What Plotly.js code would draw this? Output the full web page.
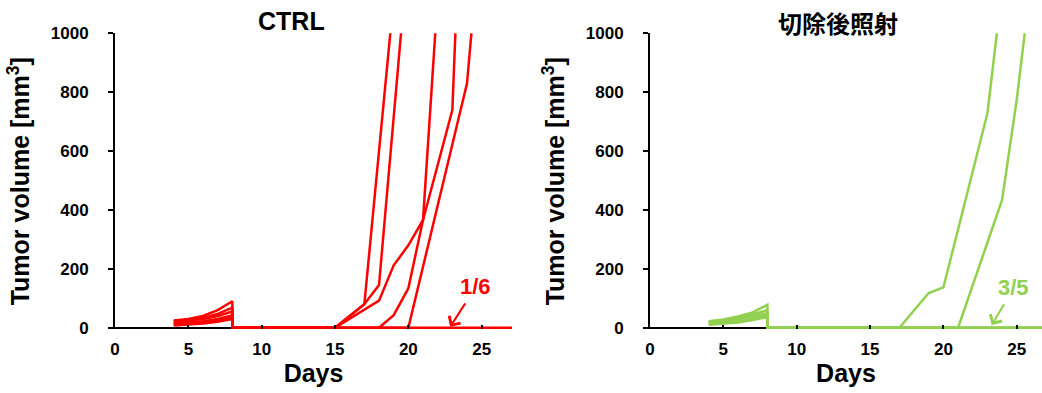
<!DOCTYPE html>
<html><head><meta charset="utf-8">
<script src="https://cdn.plot.ly/plotly-3.0.1.min.js"></script>
<style>html,body{margin:0;padding:0;background:#fff}#chart{width:1042px;height:393px}</style>
</head><body><div id="chart"></div>
<script>
// shared measurement days before resection (day 8)
const earlyDays = [4, 5, 6, 7, 8];

// CTRL group (6 mice)
const ctrlM1Early = [25, 30, 40, 60, 90];
const ctrlM1LateDays = [8, 15, 17, 19];
const ctrlM1Late = [0, 0, 80, 1120];

const ctrlM2Early = [22, 26, 33, 47, 68];
const ctrlM2LateDays = [8, 15, 17, 18, 20];
const ctrlM2Late = [0, 0, 80, 145, 1285];

const ctrlM3Early = [20, 24, 30, 40, 55];
const ctrlM3LateDays = [8, 15, 18, 19, 20, 21, 23, 24];
const ctrlM3Late = [0, 0, 92, 212, 280, 366, 739, 2000];

const ctrlM4Early = [14, 17, 22, 30, 42];
const ctrlM4LateDays = [8, 18, 19, 20, 21, 22];
const ctrlM4Late = [0, 0, 43, 134, 366, 1125];

const ctrlM5Early = [12, 14, 18, 25, 35];
const ctrlM5LateDays = [8, 20, 24, 25];
const ctrlM5Late = [0, 0, 830, 1400];

const ctrlM6Early = [8, 10, 14, 20, 30];
const ctrlM6LateDays = [8, 28];
const ctrlM6Late = [0, 0];

// Resection + irradiation group (5 mice)
const irrM1Early = [22, 28, 38, 52, 78];
const irrM1LateDays = [8, 17, 19, 20, 23, 24];
const irrM1Late = [0, 0, 118, 137, 728, 1150];

const irrM2Early = [20, 25, 33, 45, 60];
const irrM2LateDays = [8, 21, 24, 25, 26];
const irrM2Late = [0, 0, 434, 775, 1190];

const irrM3Early = [18, 22, 28, 38, 50];
const irrM3LateDays = [8, 28];
const irrM3Late = [0, 0];

const irrM4Early = [15, 18, 23, 31, 42];
const irrM4LateDays = [8, 28];
const irrM4Late = [0, 0];

const irrM5Early = [10, 13, 18, 26, 36];
const irrM5LateDays = [8, 28];
const irrM5Late = [0, 0];

const yTicks = [0, 200, 400, 600, 800, 1000];
const xTicks = [0, 5, 10, 15, 20, 25];
const titles = ['CTRL', '切除後照射'];
const fractions = ['1/6', '3/5'];

const RED = '#FF0000', GREEN = '#92D050';
const FONT = 'Liberation Sans, Arial, sans-serif';

function mouse(early, lateDays, late, color, xa, ya) {
  return {
    x: earlyDays.concat(lateDays),
    y: early.concat(late),
    type: 'scatter', mode: 'lines',
    line: {color: color, width: 2.5},
    xaxis: xa, yaxis: ya, showlegend: false, hoverinfo: 'skip'
  };
}

const traces = [
  mouse(ctrlM6Early, ctrlM6LateDays, ctrlM6Late, RED, 'x', 'y'),
  mouse(ctrlM1Early, ctrlM1LateDays, ctrlM1Late, RED, 'x', 'y'),
  mouse(ctrlM2Early, ctrlM2LateDays, ctrlM2Late, RED, 'x', 'y'),
  mouse(ctrlM3Early, ctrlM3LateDays, ctrlM3Late, RED, 'x', 'y'),
  mouse(ctrlM4Early, ctrlM4LateDays, ctrlM4Late, RED, 'x', 'y'),
  mouse(ctrlM5Early, ctrlM5LateDays, ctrlM5Late, RED, 'x', 'y'),
  mouse(irrM3Early, irrM3LateDays, irrM3Late, GREEN, 'x2', 'y2'),
  mouse(irrM4Early, irrM4LateDays, irrM4Late, GREEN, 'x2', 'y2'),
  mouse(irrM5Early, irrM5LateDays, irrM5Late, GREEN, 'x2', 'y2'),
  mouse(irrM1Early, irrM1LateDays, irrM1Late, GREEN, 'x2', 'y2'),
  mouse(irrM2Early, irrM2LateDays, irrM2Late, GREEN, 'x2', 'y2')
];

function xAxis(domain, range, anchor) {
  return {
    domain: domain, range: range, anchor: anchor,
    showline: false, showgrid: false, zeroline: false,
    ticks: 'inside', ticklen: 4, tickwidth: 2, tickcolor: '#000',
    tickvals: xTicks, ticklabelstandoff: 8,
    tickfont: {family: FONT, size: 17, color: '#000', weight: 'bold'},
    title: {text: 'Days', standoff: 5, font: {family: FONT, size: 25, color: '#000', weight: 'bold'}},
    fixedrange: true
  };
}
function yAxis(anchor) {
  return {
    domain: [0.1623, 0.9153], range: [-5, 1000], anchor: anchor,
    showline: true, linewidth: 2, linecolor: '#000',
    showgrid: false, zeroline: true, zerolinecolor: '#000', zerolinewidth: 2,
    ticks: 'outside', ticklen: 5, tickwidth: 2, tickcolor: '#000',
    tickvals: yTicks, ticklabelstandoff: 16,
    tickfont: {family: FONT, size: 17, color: '#000', weight: 'bold'},
    title: {text: 'Tumor volume [mm<sup>3</sup>]', standoff: 14, font: {family: FONT, size: 25, color: '#000', weight: 'bold'}},
    fixedrange: true
  };
}

const layout = {
  width: 1042, height: 393,
  margin: {l: 0, r: 0, t: 0, b: 0},
  paper_bgcolor: '#fff', plot_bgcolor: '#fff',
  showlegend: false,
  xaxis: xAxis([0.1104, 0.4914], [0, 27.07], 'y'),
  yaxis: yAxis('x'),
  xaxis2: xAxis([0.6238, 1], [0, 26.72], 'y2'),
  yaxis2: yAxis('x2'),
  annotations: [
    {text: titles[0], xref: 'paper', yref: 'paper', x: 0.2802, y: 0.947, xanchor: 'center', yanchor: 'middle',
     showarrow: false, font: {family: FONT, size: 25, color: '#000', weight: 'bold'}},
    {text: titles[1], xref: 'paper', yref: 'paper', x: 0.8042, y: 0.943, xanchor: 'center', yanchor: 'middle',
     showarrow: false, font: {family: 'Noto Sans CJK JP, sans-serif', size: 24, color: '#000', weight: 'bold'}},
    {text: fractions[0], xref: 'x', yref: 'y', x: 22.85, y: 3, ax: 25.7, ay: -40, showarrow: true,
     startstandoff: 3, arrowhead: 4, arrowsize: 1.3, arrowwidth: 2, arrowcolor: RED,
     font: {family: FONT, size: 22, color: RED, weight: 'bold'}},
    {text: fractions[1], xref: 'x2', yref: 'y2', x: 23.29, y: 9, ax: 22.3, ay: -37.5, showarrow: true,
     startstandoff: 3, arrowhead: 4, arrowsize: 1.3, arrowwidth: 2, arrowcolor: GREEN,
     font: {family: FONT, size: 22, color: GREEN, weight: 'bold'}}
  ]
};

Plotly.newPlot('chart', traces, layout, {staticPlot: true, displayModeBar: false});
</script>
</body></html>
